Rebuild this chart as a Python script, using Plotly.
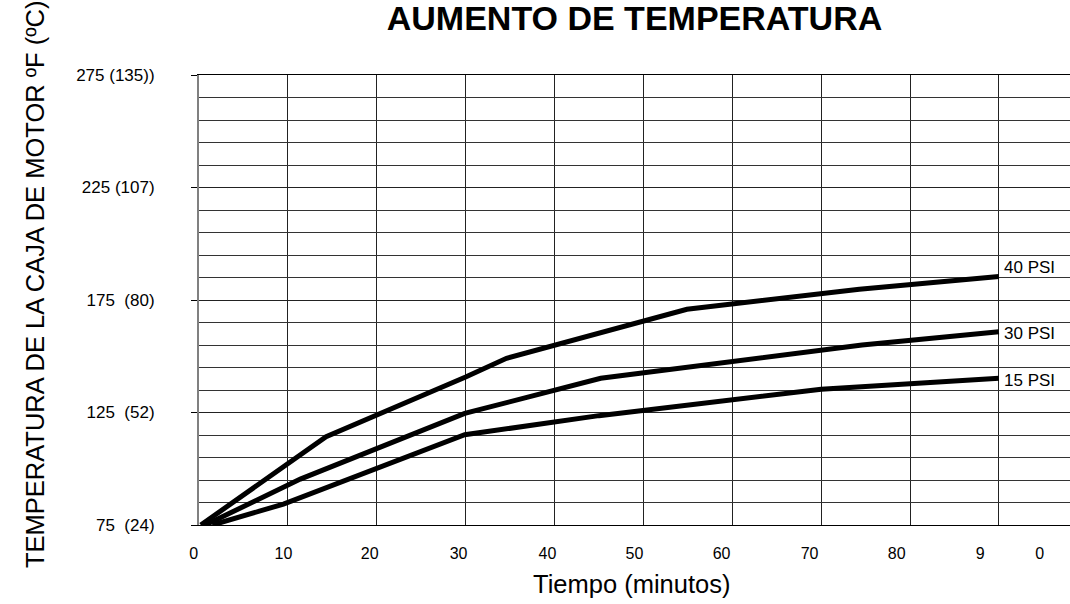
import plotly.graph_objects as go

# ---- data ----
t40 = [0.2, 14.3, 30.0, 34.6, 54.9, 74.3, 90.0]
f40 = [75, 114.2, 140.8, 149.1, 170.9, 179.8, 185.4]

t30 = [0.7, 11.4, 29.9, 45.2, 74.6, 90.0]
f30 = [75, 95.4, 124.6, 140.2, 155.0, 160.9]

t15 = [1.5, 9.5, 29.9, 45.0, 70.0, 90.0]
f15 = [75, 84.3, 115.1, 123.6, 135.3, 140.2]

series_names = ["40 PSI", "30 PSI", "15 PSI"]
label_y = [189.4, 159.9, 139.4]

x_tick_pos = [0.3, 10.4, 20.1, 30.1, 40.1, 49.9, 59.7, 69.6, 79.4, 88.8, 95.5]
x_tick_text = ["0", "10", "20", "30", "40", "50", "60", "70", "80", "9", "0"]
x_grid = [10, 20, 30, 40, 50, 60, 70, 80, 90]

y_tick_vals = [75, 125, 175, 225, 275]
y_tick_text = ["75\u00a0 (24)", "125\u00a0 (52)", "175\u00a0 (80)", "225 (107)", "275 (135))"]
y_grid = list(range(75, 276, 10))

FONT = "Arial, Liberation Sans, sans-serif"

fig = go.Figure()
for xs, ys, nm in zip([t40, t30, t15], [f40, f30, f15], series_names):
    fig.add_trace(go.Scatter(x=xs, y=ys, mode="lines", name=nm,
                             line=dict(color="black", width=5),
                             showlegend=False, hoverinfo="skip"))

for nm, ly in zip(series_names, label_y):
    fig.add_annotation(x=90, y=ly, xref="x", yref="y", text=nm, showarrow=False,
                       xanchor="left", yanchor="middle", xshift=3,
                       font=dict(family=FONT, size=17, color="black"))

# axis titles as annotations
fig.add_annotation(x=(35 - 199) / 871, y=(525 - 285) / 450, xref="paper", yref="paper",
                   text="TEMPERATURA DE LA CAJA DE MOTOR ºF (ºC)", textangle=-90,
                   showarrow=False, xanchor="center", yanchor="middle",
                   font=dict(family=FONT, size=25.5, color="black"))
fig.add_annotation(x=(631 - 199) / 871, y=-(584 - 525) / 450, xref="paper", yref="paper",
                   text="Tiempo (minutos)", showarrow=False,
                   xanchor="center", yanchor="middle",
                   font=dict(family=FONT, size=25.5, color="black"))

fig.update_layout(
    width=1070, height=604,
    margin=dict(l=199, r=0, t=75, b=79),
    paper_bgcolor="white", plot_bgcolor="white",
    title=dict(text="<b>AUMENTO DE TEMPERATURA</b>", x=0.5, xref="paper",
               y=0.99, yref="container", yanchor="top", pad=dict(t=0),
               font=dict(family=FONT, size=34, color="black")),
    xaxis=dict(range=[0, 98], tickmode="array", tickvals=x_tick_pos, ticktext=x_tick_text,
               showgrid=False, zeroline=False, ticks="",
               ticklabelstandoff=14, ticklabelshift=-8,
               tickfont=dict(family=FONT, size=16, color="black"),
               showline=True, mirror=True, linecolor="black", linewidth=1,
               minor=dict(tickmode="array", tickvals=x_grid, showgrid=True,
                          gridcolor="#222222", gridwidth=1, ticks="")),
    yaxis=dict(range=[75, 275], tickmode="array", tickvals=y_tick_vals, ticktext=y_tick_text,
               showgrid=True, gridcolor="#222222", gridwidth=1, zeroline=False,
               ticks="outside", ticklen=6, tickcolor="black", tickwidth=1,
               ticklabelstandoff=33,
               tickfont=dict(family=FONT, size=17, color="black"),
               showline=True, linecolor="#808080", linewidth=2,
               minor=dict(tickmode="array", tickvals=y_grid, showgrid=True,
                          gridcolor="#333333", gridwidth=1, ticks="")),
)

fig.write_html("out.html", config={"displayModeBar": False},
               post_script="document.body.style.margin='0';document.body.style.overflow='hidden';")
